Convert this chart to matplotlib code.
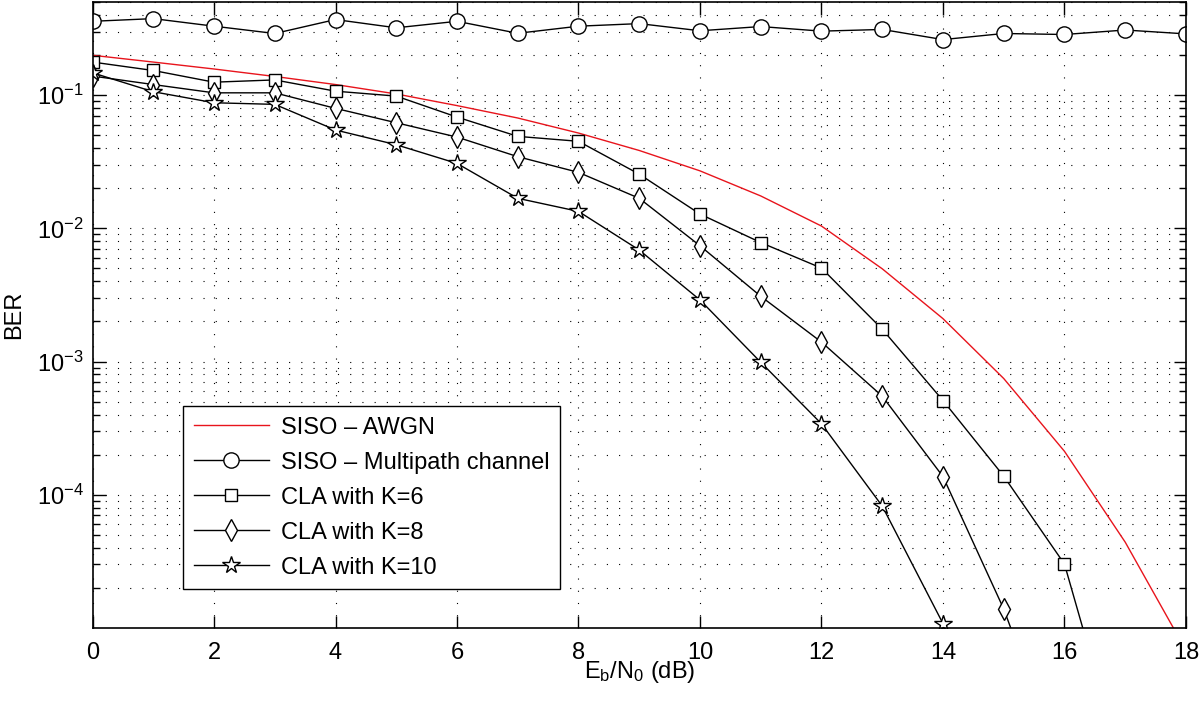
import matplotlib
matplotlib.use("Agg")
import matplotlib.pyplot as plt
from matplotlib.ticker import LogLocator, NullFormatter

plt.rcParams['font.family'] = ['Liberation Sans', 'DejaVu Sans']
plt.rcParams['mathtext.fontset'] = 'custom'
plt.rcParams['mathtext.rm'] = 'Liberation Sans'
plt.rcParams['mathtext.it'] = 'Liberation Sans:italic'
plt.rcParams['mathtext.bf'] = 'Liberation Sans:bold'

# Eb/N0 in dB
ebn0 = list(range(19))

# BER curves
awgn = [0.199, 0.177, 0.157, 0.138, 0.120, 0.102, 0.0834, 0.0673, 0.0519, 0.0384,
        0.0270, 0.0175, 0.0104, 0.00497, 0.00210, 7.46e-4, 2.12e-4, 4.41e-5, 6.8e-6]
multipath = [0.358, 0.375, 0.329, 0.290, 0.369, 0.320, 0.358, 0.291, 0.329, 0.344,
             0.304, 0.327, 0.302, 0.311, 0.261, 0.290, 0.285, 0.308, 0.288]
cla_k6 = [0.177, 0.153, 0.125, 0.130, 0.107, 0.0983, 0.0684, 0.0490, 0.0450, 0.0255,
          0.0128, 0.00782, 0.00503, 0.00175, 5.10e-4, 1.38e-4, 3.02e-5, 7.7e-7]
cla_k8 = [0.139, 0.120, 0.104, 0.104, 0.0795, 0.0620, 0.0484, 0.0345, 0.0263, 0.0168,
          0.00740, 0.00309, 0.00140, 5.50e-4, 1.37e-4, 1.39e-5, 8.1e-7]
cla_k10 = [0.147, 0.106, 0.0876, 0.0852, 0.0547, 0.0424, 0.0307, 0.0168, 0.0134, 0.00687,
           0.00290, 9.88e-4, 3.41e-4, 8.23e-5, 1.08e-5, 8.2e-7]

labels = ["SISO \u2013 AWGN", "SISO \u2013 Multipath channel",
          "CLA with K=6", "CLA with K=8", "CLA with K=10"]

fig = plt.figure(figsize=(12, 7.05), dpi=100)
ax = fig.add_axes([0.0771, 0.1092, 0.9112, 0.8880])

lw = 1.0
ax.semilogy(ebn0, awgn, color='#e8141c', lw=lw, label=labels[0])
ax.semilogy(ebn0, multipath, 'k-', marker='o', ms=11, mfc='white', mew=1.0, lw=lw, label=labels[1])
ax.semilogy(ebn0[:len(cla_k6)], cla_k6, 'k-', marker='s', ms=8.5, mfc='white', mew=1.0, lw=lw, label=labels[2])
ax.semilogy(ebn0[:len(cla_k8)], cla_k8, 'k-', marker='d', ms=11, mfc='white', mew=1.0, lw=lw, label=labels[3])
ax.semilogy(ebn0[:len(cla_k10)], cla_k10, 'k-', marker='*', ms=13, mfc='white', mew=1.0, lw=lw, label=labels[4])

ax.set_xlim(0, 18)
ax.set_ylim(1e-5, 0.5)
ax.set_xticks(range(0, 19, 2))
ax.set_yticks([1e-4, 1e-3, 1e-2, 1e-1])
ax.yaxis.set_minor_locator(LogLocator(base=10, subs=range(2, 10), numticks=20))
ax.yaxis.set_minor_formatter(NullFormatter())

dots = (0, (1, 10))
ax.grid(True, which='major', axis='both', color='k', lw=0.8, linestyle=dots)
ax.grid(True, which='minor', axis='y', color='k', lw=0.8, linestyle=dots)

ax.tick_params(which='both', direction='in', top=True, right=True, labelsize=17, width=1.0)
ax.tick_params(which='major', length=9)
ax.tick_params(which='minor', length=5)
ax.tick_params(axis='x', which='major', pad=10)
ax.tick_params(axis='y', which='major', pad=6.5)
for s in ax.spines.values():
    s.set_linewidth(1.2)

ax.set_xlabel(r'E$_\mathregular{b}$/N$_\mathregular{0}$ (dB)', fontsize=17)
ax.xaxis.set_label_coords(0.5, -0.049)
ax.set_ylabel('BER', fontsize=17)
ax.yaxis.set_label_coords(-0.062, 0.5)

leg = ax.legend(loc='lower left', bbox_to_anchor=(0.0828, 0.062), borderaxespad=0,
                fontsize=17, fancybox=False, framealpha=1, edgecolor='k',
                handlelength=3.2, handletextpad=0.5, labelspacing=0.55, borderpad=0.45)
leg.get_frame().set_linewidth(1.0)

fig.savefig('out.png', dpi=100)
